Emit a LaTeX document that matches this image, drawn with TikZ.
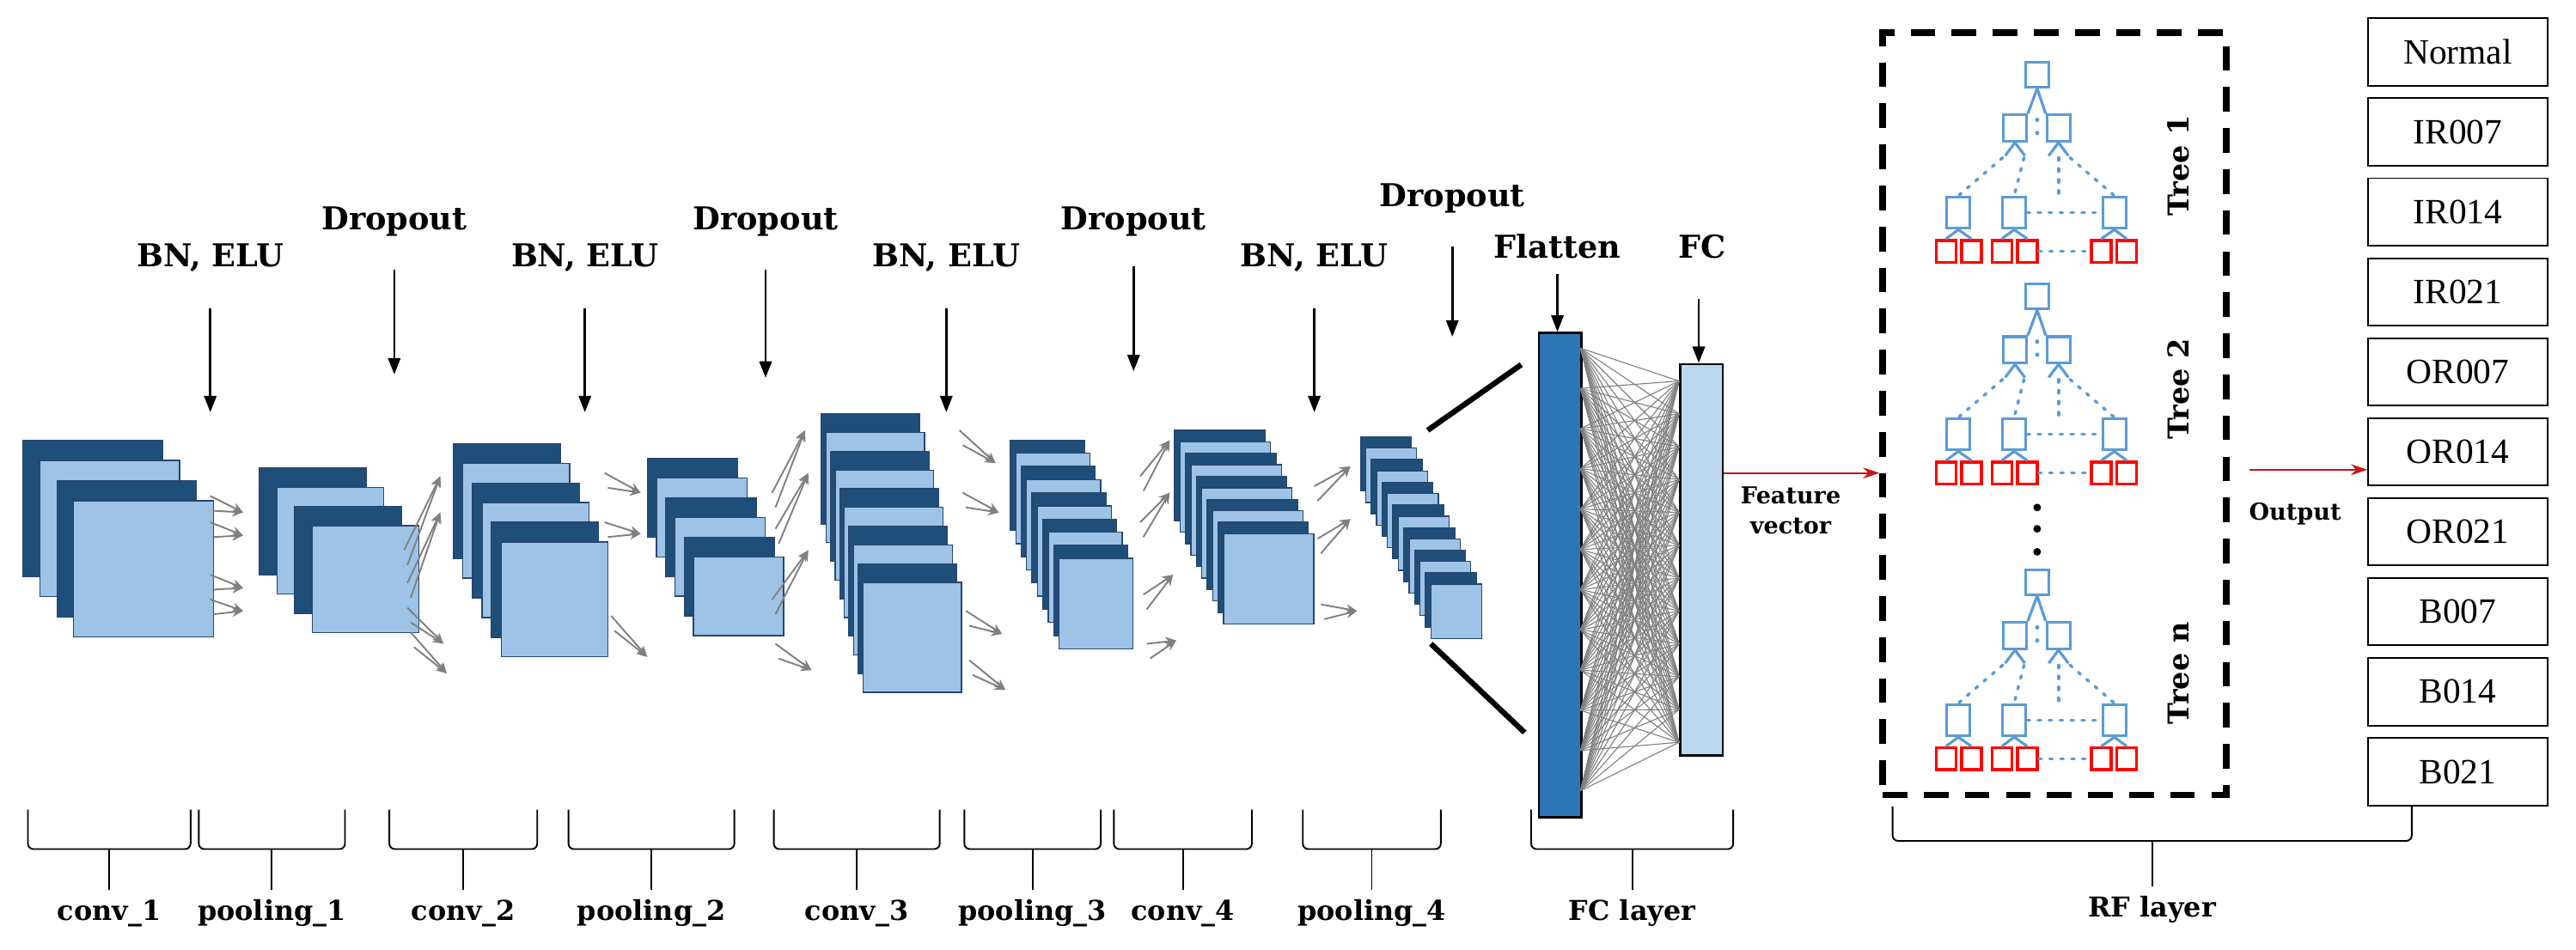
\documentclass[tikz,border=0pt]{standalone}
\usepackage{fontspec}
\setmainfont{Liberation Serif}
\newfontfamily\lbl{DejaVu Serif}
\usetikzlibrary{arrows.meta}
\definecolor{dk}{RGB}{31,78,121}
\definecolor{lt}{RGB}{157,195,230}
\definecolor{edge}{RGB}{40,70,110}
\definecolor{tb}{RGB}{91,155,213}
\definecolor{flc}{RGB}{46,117,182}
\definecolor{fcc}{RGB}{189,215,238}
\definecolor{ar}{RGB}{200,20,20}
\newcommand\stk[7]{\foreach \i in {1,...,#3}{%
 \pgfmathtruncatemacro\odd{mod(\i,2)}%
 \ifnum\odd=1 \def\fcol{dk}\else\def\fcol{lt}\fi
 \path[draw=edge,fill=\fcol,line width=0.4pt] ({#1+(\i-1)*#4},{#2+(\i-1)*#5}) rectangle ++(#6,#7);}}
\newcommand\ga[4]{%
 \draw[garr] (#1,#2) -- (#3,#4);
 \draw[garr] ({#1+2},{#2+9}) -- (#3,#4);}
\newcommand\rftree[1]{%
 \begin{scope}[yshift={-0.6pt*(#1)}]
 \node[tbox,minimum width=8.4pt,minimum height=9pt] (r) at (1240,45.5) {};
 \node[tbox,minimum width=8.4pt,minimum height=9.6pt] (a) at (1226.5,78) {};
 \node[tbox,minimum width=8.4pt,minimum height=9.6pt] (b) at (1253,78) {};
 \draw[tline] (r.south) -- (a.north east); \draw[tline] (r.south) -- (b.north west);
 \fill[tb] (1240,73) circle (0.8pt) (1240,81) circle (0.8pt);
 \draw[tline] (a.south) -- ++(-6,8) (a.south) -- ++(6,8);
 \draw[tline] (b.south) -- ++(-6,8) (b.south) -- ++(6,8);
 \node[tbox,minimum width=8.4pt,minimum height=11.4pt] (c) at (1192,129.5) {};
 \node[tbox,minimum width=8.4pt,minimum height=11.4pt] (d) at (1226,129.5) {};
 \node[tbox,minimum width=8.4pt,minimum height=11.4pt] (e) at (1287,129.5) {};
 \draw[tdot] (1219,96) -- (c.north);
 \draw[tdot] (1232,96) -- (d.north);
 \draw[tdot] (1253,96) -- (1253,118);
 \draw[tdot] (1260,96) -- (e.north);
 \draw[tdot] (d.east) -- (e.west);
 \foreach \n/\x in {l1/1184.5,l2/1200,l3/1218.5,l4/1234,l5/1279,l6/1294.5}
   \node[lbox] (\n) at (\x,153) {};
 \draw[tline] (c.south) -- (l1.north) (c.south) -- (l2.north);
 \draw[tline] (d.south) -- (l3.north) (d.south) -- (l4.north);
 \draw[tline] (e.south) -- (l5.north) (e.south) -- (l6.north);
 \draw[tdot] (l4.east) -- (l5.west);
 \end{scope}}
\tikzset{
 garr/.style={draw={rgb,255:red,128;green,128;blue,128},line width=0.6pt,-{Stealth[length=4pt,width=3.5pt]}},
 blk/.style={line width=0.8pt,-{Triangle[length=6pt,width=4.5pt]}},
 top/.style={font=\lbl\bfseries\fontsize{11.5}{13}\selectfont},
 bot/.style={font=\lbl\bfseries\fontsize{10}{12}\selectfont},
 tbox/.style={draw=tb,line width=1pt,inner sep=0pt},
 lbox/.style={draw=red,line width=1.1pt,inner sep=0pt,minimum width=7.2pt,minimum height=8pt},
 tline/.style={draw=tb,line width=1pt},
 tdot/.style={draw=tb,line width=1.1pt,dash pattern=on 1pt off 3pt,line cap=round},
 cls/.style={draw,line width=0.6pt,minimum width=65.4pt,minimum height=24.6pt,inner sep=0pt,font=\fontsize{13}{14}\selectfont},
 brk/.style={line width=0.6pt,rounded corners=2pt}
}
\begin{document}
\begin{tikzpicture}[x=0.6pt,y=-0.6pt]
\useasboundingbox (0,0) rectangle (1568,578);
% stacks
\stk{14}{268}{4}{10.3}{12.3}{85}{83}
\stk{158}{285}{4}{10.7}{11.7}{65}{65}
\stk{276}{270}{6}{5.8}{12}{65}{70}
\stk{394}{279}{6}{5.6}{12}{55}{48}
\stk{500}{252}{10}{2.8}{11.4}{60}{67}
\stk{615}{268}{10}{3.3}{8}{45}{55}
\stk{715}{262}{10}{3.3}{7}{55}{55}
\stk{828}{266}{14}{3.3}{6.9}{31}{33}
% gray arrows
\ga{128}{302}{148}{312} \ga{128}{318}{148}{326} \ga{128}{350}{148}{358} \ga{128}{365}{148}{372}
\ga{246}{335}{268}{290} \ga{248}{355}{268}{312} \ga{248}{370}{270}{392} \ga{250}{385}{272}{410}
\ga{368}{288}{390}{300} \ga{368}{318}{390}{325} \ga{372}{375}{394}{400}
\ga{470}{300}{490}{262} \ga{472}{322}{492}{288} \ga{470}{365}{492}{335} \ga{472}{392}{494}{408}
\ga{584}{262}{606}{282} \ga{586}{300}{608}{312} \ga{588}{372}{610}{386} \ga{590}{402}{612}{420}
\ga{694}{290}{712}{268} \ga{694}{318}{712}{300} \ga{696}{362}{714}{350} \ga{698}{392}{716}{390}
\ga{800}{296}{822}{284} \ga{802}{328}{822}{316} \ga{804}{368}{826}{372}
% flatten & FC
\node[draw=black,line width=0.8pt,fill=flc,minimum width=15.6pt,minimum height=177pt,inner sep=0pt,anchor=north west] (flat) at (936,202) {};
\node[draw=black,line width=0.8pt,fill=fcc,minimum width=15.6pt,minimum height=143pt,inner sep=0pt,anchor=north west] (fc) at (1022,221) {};
\foreach \a in {0,...,11}\foreach \b in {0,...,11}
 \draw[gray,line width=0.35pt] (962,{212+\a*24.5}) -- (1022,{232+\b*20});
\coordinate (s8t) at (869,262); \coordinate (s8b) at (871,392);
\draw[line width=2pt] (s8t) -- (926,222);
\draw[line width=2pt] (s8b) -- (928,446);
% top labels
\foreach \n/\x in {b1/128,b2/356,b3/576,b4/800}{
 \node[top] (\n) at (\x,157) {BN, ELU};
 \coordinate (\n t) at (\x,251);
 \draw[blk] (\x,188) -- (\n t);}
\foreach \n/\x/\y/\s/\e in {d1/240/135/164/228,d2/466/135/164/230,d3/690/135/162/226,d4/884/121/150/205}{
 \node[top] (\n) at (\x,\y) {Dropout};
 \coordinate (\n t) at (\x,\e);
 \draw[blk] (\x,\s) -- (\n t);}
\node[top] (flab) at (948,150) {Flatten};
\node[top] (fclab) at (1036,150) {FC};
\draw[blk] (948,167) -- (flat.north west -| 948,0);
\draw[blk] (1034,182) -- (fc.north west -| 1034,0);
% RF
\node[draw,line width=2.4pt,dash pattern=on 9pt off 6pt,minimum width=125.4pt,minimum height=278.4pt,anchor=north west,inner sep=0pt] (rf) at (1144,18) {};
\rftree{0}\rftree{135}\rftree{309}
\foreach \y in {309,322,336} \fill[black] (1240,\y) circle (1.4pt);
\node[top,rotate=90,font=\lbl\bfseries\fontsize{10.5}{12}\selectfont] (t1) at (1326,101) {Tree 1};
\node[top,rotate=90,font=\lbl\bfseries\fontsize{10.5}{12}\selectfont] (t2) at (1326,237) {Tree 2};
\node[top,rotate=90,font=\lbl\bfseries\fontsize{10.5}{12}\selectfont] (tn) at (1326,410) {Tree n};
\draw[ar,line width=0.7pt,-{Stealth[length=6pt,width=4pt]}] (fc.east |- 0,288) -- (rf.west |- 0,288);
\node[bot,align=center,font=\lbl\bfseries\fontsize{8.5}{11}\selectfont] (fv) at (1090,311) {Feature\\vector};
% outputs
\foreach \n/\t [count=\k from 0] in {o0/Normal,o1/IR007,o2/IR014,o3/IR021,o4/OR007,o5/OR014,o6/OR021,o7/B007,o8/B014,o9/B021}
 \node[cls,anchor=north west] (\n) at (1441,{10.6+\k*48.7}) {\t};
\draw[ar,line width=0.7pt,-{Stealth[length=6pt,width=4pt]}] (1369,286) -- (o5.west |- 0,286);
\node[bot,font=\lbl\bfseries\fontsize{8.5}{11}\selectfont] (outl) at (1397,313) {Output};
% bottom brackets
\foreach \n/\a/\b/\t in {c1/17/116/conv\_1,p1/121/210/pooling\_1,c2/237/327/conv\_2,p2/346/447/pooling\_2,c3/471/572/conv\_3,p3/587/670/pooling\_3,c4/678/762/conv\_4,p4/793/877/pooling\_4,fcl/932/1055/FC layer}{
 \draw[brk] (\a,493) -- (\a,517) -- (\b,517) -- (\b,493);
 \coordinate (\n m) at ({(\a+\b)/2},517);
 \node[bot] (\n) at ({(\a+\b)/2},556) {\t};
 \draw[line width=0.6pt] (\n m) -- (\n.north);}
\draw[brk] (1152,491) -- (1152,512) -- (1468,512) -- (o9.south -| 1468,0);
\coordinate (rfm) at (1310,512);
\node[bot] (rfl) at (1310,554) {RF layer};
\draw[line width=0.6pt] (rfm) -- (rfl.north);
\end{tikzpicture}
\end{document}
